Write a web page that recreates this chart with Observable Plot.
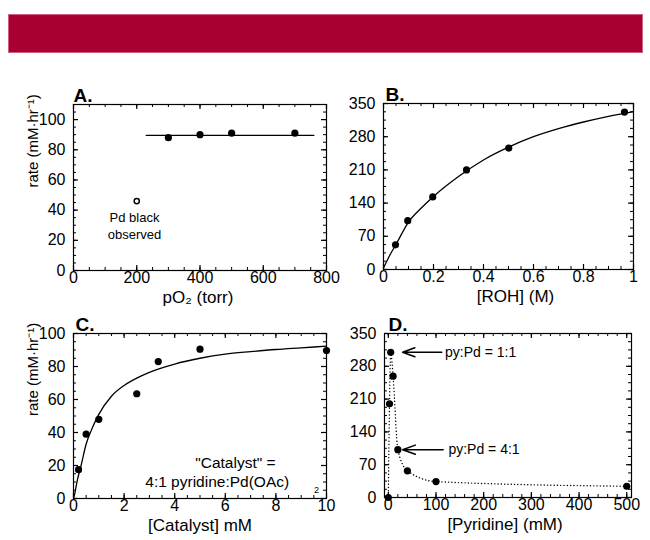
<!DOCTYPE html>
<html><head><meta charset="utf-8">
<script src="https://cdn.jsdelivr.net/npm/d3@7"></script>
<script src="https://cdn.jsdelivr.net/npm/@observablehq/plot@0.6"></script>
<style>
body{margin:0;background:#fff;}
#wrap{position:relative;width:650px;height:540px;overflow:hidden;font-family:"Liberation Sans",Arial,Helvetica,sans-serif;}
#bar{position:absolute;left:8px;top:14px;width:633px;height:37px;background:#a80030;border:1px solid #d0607f;}
.panel{position:absolute;}
</style></head><body><div id="wrap"><div id="bar"></div></div>
<script>
// ---------- Panel A: rate vs pO2 ----------
const aPO2 = [300, 400, 500, 700];
const aRate = [88, 90, 91, 91];
const aBlackPO2 = [200];
const aBlackRate = [46];
const aFitPO2 = [230, 760];
const aFitRate = [89.5, 89.5];
const aXTicks = [0, 200, 400, 600, 800];
const aYTicks = [0, 20, 40, 60, 80, 100];

// ---------- Panel B: rate vs [ROH] ----------
const bROH = [0.048, 0.097, 0.197, 0.332, 0.501, 0.964];
const bRate = [52, 103, 153, 210, 256, 332];
const bFitROH = [0, 0.025, 0.05, 0.1, 0.15, 0.2, 0.3, 0.4, 0.5, 0.6, 0.7, 0.8, 0.9, 1.0];
const bFitRate = [3, 30, 53, 100, 129, 154, 196, 231, 258, 280, 297, 311, 323, 333];
const bXTicks = [0, 0.2, 0.4, 0.6, 0.8, 1];
const bYTicks = [0, 70, 140, 210, 280, 350];

// ---------- Panel C: rate vs [Catalyst] ----------
const cCat = [0.2, 0.5, 1.0, 2.5, 3.35, 5.0, 10.0];
const cRate = [17.5, 39, 48, 63.5, 83, 90.5, 89.7];
const cFitCat = [0, 0.05, 0.15, 0.3, 0.5, 0.75, 1, 1.5, 2, 2.5, 3, 4, 5, 6, 7, 8, 9, 10];
const cFitRate = [0, 3, 11, 20, 33, 43, 51, 62, 68.5, 73, 76.5, 81.5, 85, 87.5, 89, 90.3, 91.3, 92.3];
const cXTicks = [0, 2, 4, 6, 8, 10];
const cYTicks = [0, 20, 40, 60, 80, 100];

// ---------- Panel D: rate vs [Pyridine] ----------
const dPyr = [0, 2.5, 5, 10, 20, 40, 100, 500];
const dRate = [0, 200, 310, 259, 102, 57, 34, 24];
const dXTicks = [0, 100, 200, 300, 400, 500];
const dYTicks = [0, 70, 140, 210, 280, 350];
const dArrows = [
  {x1: 112, x2: 30, y: 310, label: "py:Pd = 1:1", tx: 119},
  {x1: 115, x2: 30, y: 102, label: "py:Pd = 4:1", tx: 126}
];

const FONT = '"Liberation Sans", Arial, Helvetica, sans-serif';
const zip = (xs, ys) => xs.map((x, i) => ({x, y: ys[i]}));
const wrap = document.getElementById("wrap");

function panel(cfg) {
  const {left, top, width, height, mL, mR, mT, mB, xDomain, yDomain,
         xTicks, yTicks, xMinor, yMinor, letter, letterDx, xLabel, xLabelDx, yLabel, marks} = cfg;
  const fw = width - mL - mR, fh = height - mT - mB;
  const MAJ = 5, MIN = 3;
  const tickMarks = [
    Plot.tickX(xMinor, {x: d => d, insetTop: fh - MIN, strokeWidth: 1}),
    Plot.tickX(xMinor, {x: d => d, insetBottom: fh - MIN, strokeWidth: 1}),
    Plot.tickX(xTicks, {x: d => d, insetTop: fh - MAJ, strokeWidth: 1.2}),
    Plot.tickX(xTicks, {x: d => d, insetBottom: fh - MAJ, strokeWidth: 1.2}),
    Plot.tickY(yMinor, {y: d => d, insetRight: fw - MIN, strokeWidth: 1}),
    Plot.tickY(yMinor, {y: d => d, insetLeft: fw - MIN, strokeWidth: 1}),
    Plot.tickY(yTicks, {y: d => d, insetRight: fw - MAJ, strokeWidth: 1.2}),
    Plot.tickY(yTicks, {y: d => d, insetLeft: fw - MAJ, strokeWidth: 1.2})
  ];
  const fmt = d => String(d);
  const texts = [
    Plot.text(xTicks, {x: d => d, text: fmt, frameAnchor: "bottom", dy: 12, fontSize: 16}),
    Plot.text(yTicks, {y: d => d, text: fmt, frameAnchor: "left", dx: -8, textAnchor: "end", fontSize: 16}),
    Plot.text([letter], {text: d => d, frameAnchor: "top-left", dx: letterDx, dy: -3,
      textAnchor: "start", lineAnchor: "bottom", fontWeight: "bold", fontSize: 19}),
    Plot.text([xLabel], {text: d => d, frameAnchor: "bottom", dx: xLabelDx, dy: 32, fontSize: 17})
  ];
  if (yLabel) texts.push(Plot.text([yLabel], {text: d => d, frameAnchor: "left", dx: -40, rotate: -90, fontSize: 15}));
  const p = Plot.plot({
    width, height, marginLeft: mL, marginRight: mR, marginTop: mT, marginBottom: mB,
    x: {domain: xDomain, axis: null},
    y: {domain: yDomain, axis: null},
    style: {fontFamily: FONT, fontSize: "15px", color: "black", background: "transparent", overflow: "visible"},
    marks: [...marks, Plot.frame({stroke: "black", strokeWidth: 1.2}), ...tickMarks, ...texts]
  });
  p.classList.add("panel");
  p.style.left = left + "px";
  p.style.top = top + "px";
  p.style.position = "absolute";
  wrap.appendChild(p);
}

// A
panel({
  left: 0, top: 70, width: 335, height: 250, mL: 73, mR: 9, mT: 34, mB: 50,
  xDomain: [0, 800], yDomain: [0, 110], xTicks: aXTicks, yTicks: aYTicks,
  xMinor: d3.range(0, 801, 50), yMinor: d3.range(0, 111, 5),
  letter: "A.", letterDx: 0, xLabel: "pO\u2082 (torr)", xLabelDx: -2, yLabel: "rate (mM\u00b7hr\u207b\u00b9)",
  marks: [
    Plot.line(zip(aFitPO2, aFitRate), {x: "x", y: "y", stroke: "black", strokeWidth: 1.3}),
    Plot.dot(zip(aPO2, aRate), {x: "x", y: "y", r: 3.6, fill: "black"}),
    Plot.dot(zip(aBlackPO2, aBlackRate), {x: "x", y: "y", r: 2.6, fill: "white", stroke: "black", strokeWidth: 1.5}),
    Plot.text([{x: 193, y: 30, t: "Pd black\nobserved"}], {x: "x", y: "y", text: "t", fontSize: 13, lineHeight: 1.25})
  ]
});

// B
panel({
  left: 325, top: 70, width: 325, height: 250, mL: 58, mR: 17, mT: 33, mB: 51,
  xDomain: [0, 1], yDomain: [0, 350], xTicks: bXTicks, yTicks: bYTicks,
  xMinor: d3.range(0, 1.001, 0.05), yMinor: d3.range(0, 351, 17.5),
  letter: "B.", letterDx: 2, xLabel: "[ROH] (M)", xLabelDx: 7, yLabel: null,
  marks: [
    Plot.line(zip(bFitROH, bFitRate), {x: "x", y: "y", curve: "monotone-x", stroke: "black", strokeWidth: 1.3}),
    Plot.dot(zip(bROH, bRate), {x: "x", y: "y", r: 3.6, fill: "black"})
  ]
});

// C
panel({
  left: 0, top: 300, width: 335, height: 240, mL: 73, mR: 9, mT: 33, mB: 42,
  xDomain: [0, 10], yDomain: [0, 100], xTicks: cXTicks, yTicks: cYTicks,
  xMinor: d3.range(0, 10.01, 0.5), yMinor: d3.range(0, 101, 5),
  letter: "C.", letterDx: 2, xLabel: "[Catalyst] mM", xLabelDx: 0, yLabel: "rate (mM\u00b7hr\u207b\u00b9)",
  marks: [
    Plot.line(zip(cFitCat, cFitRate), {x: "x", y: "y", curve: "monotone-x", stroke: "black", strokeWidth: 1.3}),
    Plot.dot(zip(cCat, cRate), {x: "x", y: "y", r: 3.6, fill: "black"}),
    Plot.text([{x: 6.4, y: 21.4, t: "\"Catalyst\" ="}, {x: 5.68, y: 9.9, t: "4:1 pyridine:Pd(OAc)"}],
      {x: "x", y: "y", text: "t", fontSize: 15.5}),
    Plot.text([{x: 9.6, y: 5, t: "2"}], {x: "x", y: "y", text: "t", fontSize: 9})
  ]
});

// D
panel({
  left: 325, top: 300, width: 325, height: 240, mL: 59, mR: 19, mT: 33, mB: 43,
  xDomain: [-8, 510], yDomain: [0, 350], xTicks: dXTicks, yTicks: dYTicks,
  xMinor: d3.range(0, 501, 20), yMinor: d3.range(0, 351, 17.5),
  letter: "D.", letterDx: 4, xLabel: "[Pyridine] (mM)", xLabelDx: -3, yLabel: null,
  marks: [
    Plot.line(zip(dPyr, dRate), {x: "x", y: "y", curve: "monotone-x", stroke: "black",
      strokeWidth: 1.4, strokeDasharray: "0.1,3.2", strokeLinecap: "round"}),
    Plot.dot(zip(dPyr, dRate), {x: "x", y: "y", r: 3.6, fill: "black"}),
    Plot.arrow(dArrows, {x1: "x1", x2: "x2", y1: "y", y2: "y", stroke: "black", strokeWidth: 1.5,
      headLength: 15, headAngle: 40}),
    Plot.text(dArrows, {x: "tx", y: "y", text: "label", textAnchor: "start", fontSize: 14})
  ]
});
</script></body></html>
